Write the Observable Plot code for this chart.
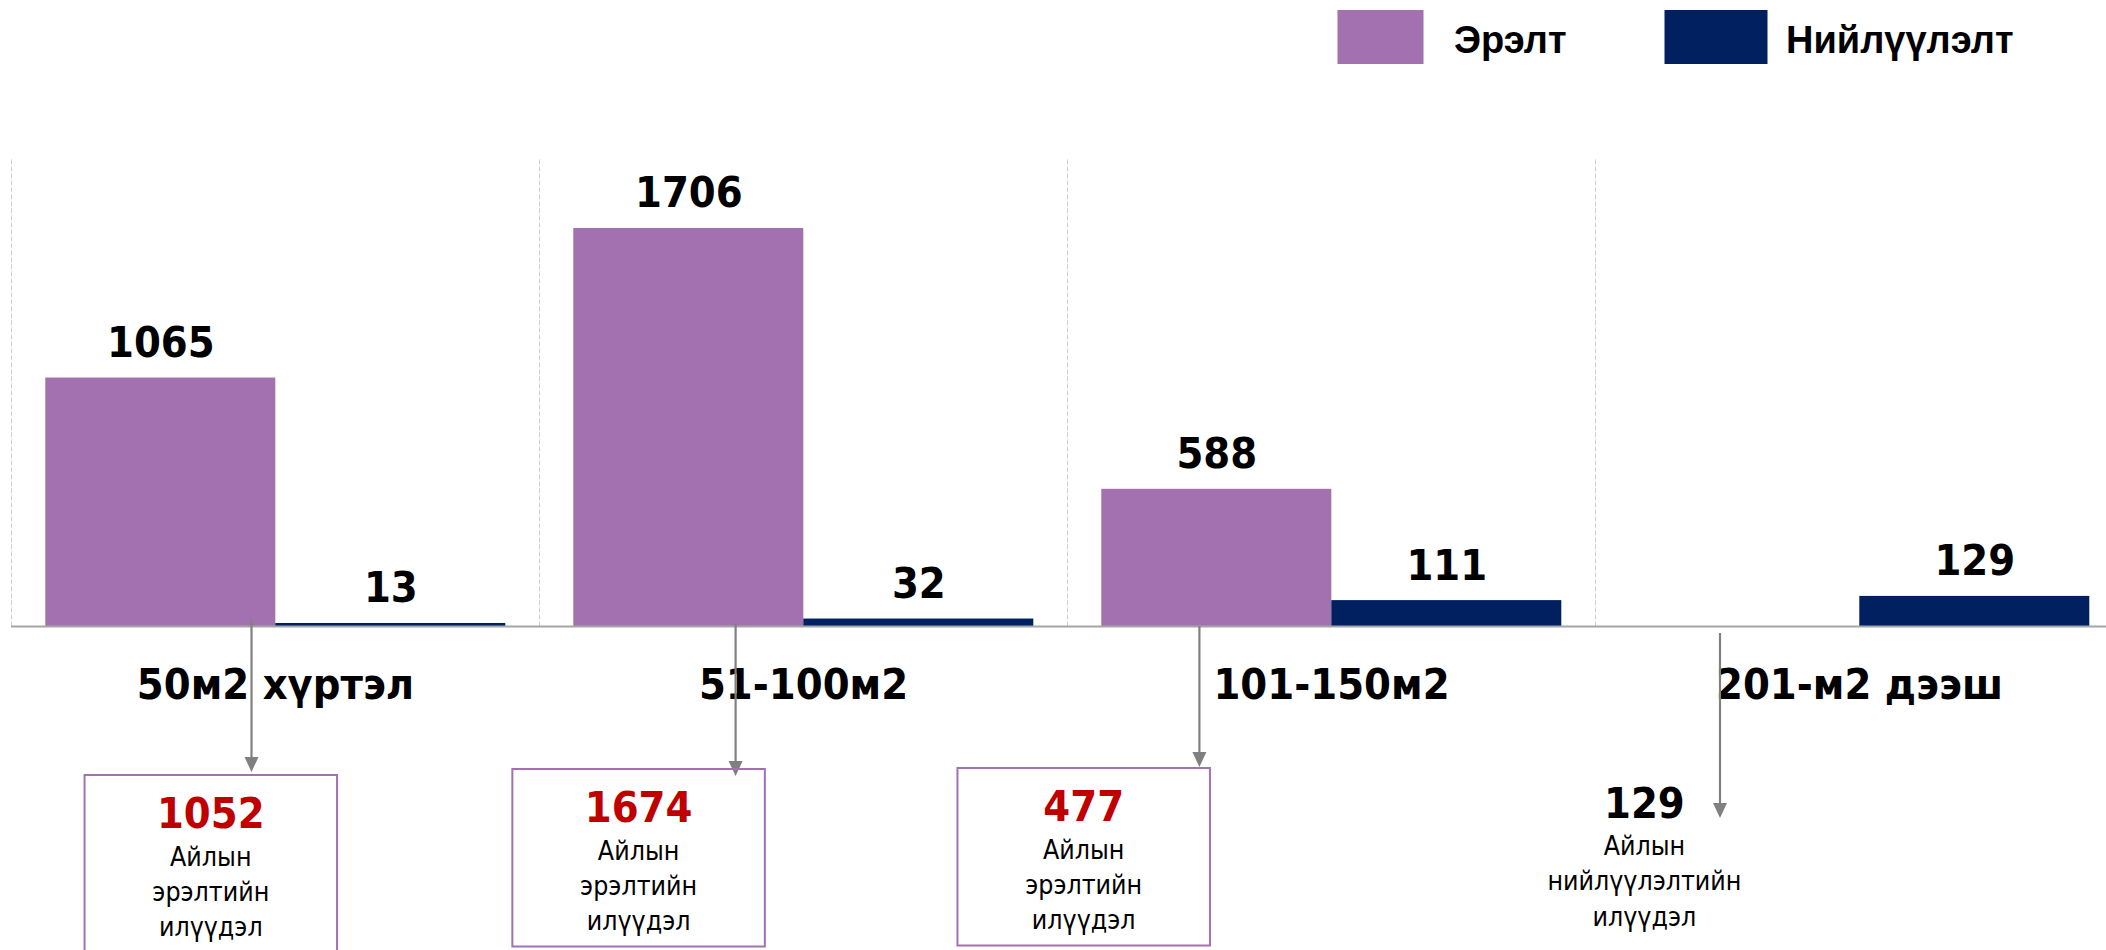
<!DOCTYPE html>
<html><head><meta charset="utf-8">
<script src="https://cdn.jsdelivr.net/npm/d3@7"></script>
<script src="https://cdn.jsdelivr.net/npm/@observablehq/plot@0.6"></script>
<style>
html,body{margin:0;padding:0;background:#fff;overflow:hidden;}
#wrap{position:relative;width:2106px;height:950px;overflow:hidden;}
#legend{position:relative;width:2106px;height:100px;display:block;}
#chart{width:2124px;}
#chart svg{display:block;overflow:visible;max-width:none !important;width:2124px;height:850px;}
#overlay{position:absolute;left:0;top:0;width:2106px;height:950px;pointer-events:none;}
</style></head><body>
<div id="wrap"><svg id="legend"></svg><div id="chart"></div><svg id="overlay"></svg></div>
<script>
// ---- data ----
const categories = ["50м2 хүртэл", "51-100м2", "101-150м2", "201-м2 дээш"];
const seriesNames = ["Эрэлт", "Нийлүүлэлт"];
const demand = [1065, 1706, 588, 0];
const supply = [13, 32, 111, 129];
const demandNote = ["Айлын", "эрэлтийн", "илүүдэл"];
const supplyNote = ["Айлын", "нийлүүлэлтийн", "илүүдэл"];

// ---- styles / layout ----
const colors = ["#A371AF", "#002060"];
const condensed = "'DejaVu Sans Condensed','DejaVu Sans',sans-serif";
const noteLayout = [
  {arrowDx: 240.5, arrowFrom: 620, arrowTo: 772, boxDx: 199.8, boxTop: 775},
  {arrowDx: 196.6, arrowFrom: 624, arrowTo: 776, boxDx: 99.6, boxTop: 769},
  {arrowDx: 132.4, arrowFrom: 626, arrowTo: 767, boxDx: 16.7, boxTop: 768},
  {arrowDx: 125.0, arrowFrom: 633, arrowTo: 818, boxDx: 49.4, boxTop: 764.5}
];

const rows = categories.flatMap((c, i) => [
  {cat: c, s: seriesNames[0], v: demand[i]},
  {cat: c, s: seriesNames[1], v: supply[i]}
]);

const chart = Plot.plot({
  width: 2124, height: 850,
  marginTop: 59.4, marginBottom: 324, marginLeft: 10.7, marginRight: 0,
  style: {fontFamily: condensed, fontStretch: "condensed", background: "transparent", overflow: "visible", maxWidth: "none"},
  fx: {domain: categories, padding: 0, axis: null},
  x: {domain: seriesNames, paddingInner: 0, paddingOuter: 0.1443, axis: null},
  y: {domain: [0, 2000], axis: null},
  color: {domain: seriesNames, range: colors},
  marks: [
    Plot.frame({anchor: "left", stroke: "#d0d0d0", strokeDasharray: "4,3", strokeWidth: 1}),
    Plot.barY(rows, {fx: "cat", x: "s", y: "v", fill: "s"}),
    Plot.ruleY([0], {stroke: "#a6a6a6", strokeWidth: 2}),
    Plot.text(rows.filter(d => d.v > 0), {fx: "cat", x: "s", y: "v", text: d => String(d.v),
      lineAnchor: "bottom", dy: -21, fontSize: 43, fontWeight: "bold", fill: "#000"}),
    Plot.text(categories, {fx: d => d, frameAnchor: "bottom", text: d => d,
      lineAnchor: "bottom", dy: 72, fontSize: 43, fontWeight: "bold", fill: "#000"})
  ]
});
document.getElementById("chart").appendChild(chart);

// ---- legend ----
const leg = d3.select("#legend").attr("width", 2106).attr("height", 100);
const legItems = [
  {name: seriesNames[0], color: colors[0], x: 1337.5, w: 86, tx: 1454},
  {name: seriesNames[1], color: colors[1], x: 1664.5, w: 103, tx: 1786}
];
legItems.forEach(it => {
  leg.append("rect").attr("x", it.x).attr("y", 10).attr("width", it.w).attr("height", 54).attr("fill", it.color);
  leg.append("text").attr("x", it.tx).attr("y", 53).text(it.name)
    .style("font-family", "'Liberation Sans',Arial,sans-serif")
    .style("font-weight", "bold").style("font-size", "38px").attr("fill", "#000");
});

// ---- annotations (positioned from the fx scale) ----
const fx = chart.scale("fx");
const ov = d3.select("#overlay");
categories.forEach((c, i) => {
  const L = noteLayout[i];
  const x0 = fx.apply(c);
  const ax = x0 + L.arrowDx;
  const head = 15, hw = 7;
  ov.append("line").attr("x1", ax).attr("x2", ax).attr("y1", L.arrowFrom).attr("y2", L.arrowTo - head + 1)
    .attr("stroke", "#808080").attr("stroke-width", 2.2);
  ov.append("path").attr("d", `M${ax - hw},${L.arrowTo - head} L${ax + hw},${L.arrowTo - head} L${ax},${L.arrowTo} Z`)
    .attr("fill", "#808080");
  const diff = demand[i] - supply[i];
  const isDemand = diff > 0;
  const cx = x0 + L.boxDx;
  if (isDemand) {
    ov.append("rect").attr("x", cx - 126.25).attr("y", L.boxTop).attr("width", 252.5).attr("height", 177.5)
      .attr("fill", "none").attr("stroke", colors[0]).attr("stroke-width", 2);
  }
  ov.append("text").attr("x", cx).attr("y", L.boxTop + 53).attr("text-anchor", "middle")
    .style("font-family", condensed).style("font-stretch", "condensed").style("font-weight", "bold").style("font-size", "43px")
    .attr("fill", isDemand ? "#C00000" : "#000").text(String(Math.abs(diff)));
  const lines = isDemand ? demandNote : supplyNote;
  lines.forEach((t, k) => {
    ov.append("text").attr("x", cx).attr("y", L.boxTop + 53 + 37.5 + k * 35.3).attr("text-anchor", "middle")
      .style("font-family", condensed).style("font-stretch", "condensed").style("font-size", "26.5px")
      .attr("fill", "#000").text(t);
  });
});
</script>
</body></html>
